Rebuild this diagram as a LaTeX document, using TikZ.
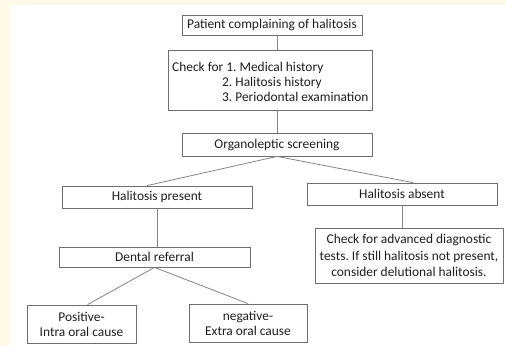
\documentclass[tikz,border=0pt]{standalone}
\usepackage{fontspec}
\setmainfont{Carlito}
\definecolor{cream}{HTML}{FFF9E8}
\definecolor{boxline}{HTML}{6E6E6E}
\definecolor{conline}{HTML}{858585}
\definecolor{txt}{HTML}{1E1E1E}
\begin{document}
\begin{tikzpicture}[x=1bp,y=-1bp,
  box/.style={draw=boxline, line width=0.8bp, rectangle, inner sep=0pt, align=center,
    text=txt, font=\fontsize{13.4bp}{15bp}\selectfont\frenchspacing},
  plain/.style={inner sep=0pt, align=left, text=txt, font=\fontsize{13.4bp}{15bp}\selectfont\frenchspacing},
  con/.style={draw=conline, line width=0.8bp}]
\useasboundingbox (0,0) rectangle (506,346);
\fill[white] (0,0) rectangle (506,346);
\fill[cream] (0,0) rectangle (506,5);
\fill[cream] (0,0) rectangle (9,346);

\node[box, minimum width=180bp, minimum height=20bp] (b1) at (272,25) {Patient complaining of halitosis};
\node[box, minimum width=204bp, minimum height=60bp] (b2) at (270,80) {};
\node[plain, anchor=north west] (b2t) at (172,61.5)
  {Check for 1. Medical history\\\hspace*{50bp}2. Halitosis history\\\hspace*{50bp}3. Periodontal examination};
\node[box, minimum width=190bp, minimum height=23bp] (b3) at (277,144.5) {Organoleptic screening};
\node[box, minimum width=190bp, minimum height=22bp] (b4) at (157,197) {Halitosis present};
\node[box, minimum width=190bp, minimum height=22bp] (b5) at (402,194) {Halitosis absent};
\node[box, minimum width=188bp, minimum height=55bp, font=\fontsize{13.4bp}{16.5bp}\selectfont\frenchspacing] (b6) at (409,255.5)
  {Check for advanced diagnostic\\tests. If still halitosis not present,\\consider delutional halitosis.};
\node[box, minimum width=191bp, minimum height=20bp] (b7) at (154.5,257) {Dental referral};
\node[box, minimum width=109bp, minimum height=38bp] (b8) at (81.5,324) {Positive-\\Intra oral cause};
\node[box, minimum width=118bp, minimum height=38bp] (b9) at (248,323) {negative-\\Extra oral cause};

\draw[con] (b1.south -| b3.north) -- (b2.north -| b3.north);
\draw[con] (b2.south -| b3.north) -- (b3.north);
\draw[con] (b3.south) -- ([xshift=-10bp]b4.north);
\draw[con] (b3.south) -- ([xshift=11bp]b5.north);
\draw[con] (b5.south) -- (b5.south |- b6.north);
\draw[con] (b4.south) -- (b4.south |- b7.north);
\draw[con] (b7.south) -- ([xshift=6bp]b8.north);
\draw[con] (b7.south) -- (b9.north);
\end{tikzpicture}
\end{document}
